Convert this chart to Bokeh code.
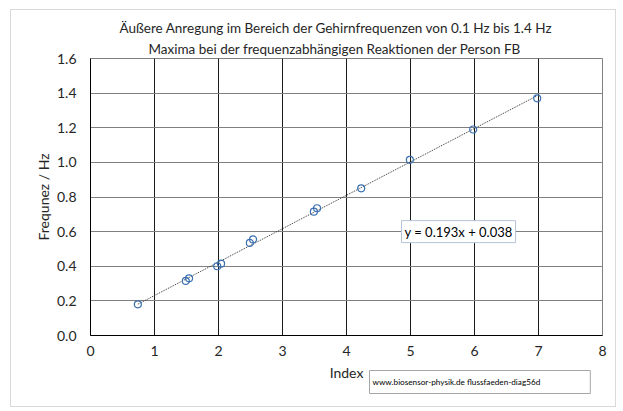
from bokeh.plotting import figure
from bokeh.models import Label, FixedTicker, Range1d, Title
from bokeh.embed import file_html
from bokeh.resources import INLINE

# Data
index_vals = [0.74, 1.49, 1.54, 1.98, 2.04, 2.49, 2.54, 3.49, 3.54, 4.23, 4.99, 5.98, 6.98]
freq_vals = [0.18, 0.315, 0.33, 0.40, 0.415, 0.535, 0.555, 0.715, 0.735, 0.85, 1.015, 1.19, 1.37]
slope = 0.193
intercept = 0.038
title_line1 = "Äußere Anregung im Bereich der Gehirnfrequenzen von 0.1 Hz bis 1.4 Hz"
title_line2 = "Maxima bei der frequenzabhängigen Reaktionen der Person FB"
x_ticks = [0, 1, 2, 3, 4, 5, 6, 7, 8]
y_ticks = [0.0, 0.2, 0.4, 0.6, 0.8, 1.0, 1.2, 1.4, 1.6]
y_tick_labels = {v: f"{v:.1f}" for v in y_ticks}
eq_text = f"y = {slope:.3f}x + {intercept:.3f}"
source_text = "www.biosensor-physik.de  flussfaeden-diag56d"

FONT = "Lato"

p = figure(width=604, height=396, output_backend="svg", toolbar_location=None,
           x_range=Range1d(0, 8), y_range=Range1d(0, 1.6),
           min_border_left=79, min_border_right=13, min_border_top=48, min_border_bottom=62,
           margin=(10, 8, 5, 11))
p.styles = {"outline": "1px solid #d9d9d9"}
p.outline_line_color = "#808080"
p.background_fill_color = "white"
p.border_fill_color = "white"

p.xaxis.ticker = FixedTicker(ticks=x_ticks)
p.yaxis.ticker = FixedTicker(ticks=y_ticks)
p.yaxis.major_label_overrides = y_tick_labels
for ax in (p.xaxis[0], p.yaxis[0]):
    ax.axis_line_color = "black"
    ax.major_tick_out = 0
    ax.major_tick_in = 0
    ax.minor_tick_out = 0
    ax.minor_tick_in = 0
    ax.major_label_text_font = FONT
    ax.major_label_text_font_size = "14px"
    ax.major_label_text_color = "#262626"
    ax.axis_label_text_font = FONT
    ax.axis_label_text_font_size = "14px"
    ax.axis_label_text_font_style = "normal"
    ax.axis_label_text_color = "#262626"
p.xaxis.axis_label = "Index"
p.yaxis.axis_label = "Frequnez / Hz"
p.xaxis.major_label_standoff = 10
p.yaxis.major_label_standoff = 14
p.xaxis.axis_label_standoff = 5
p.yaxis.axis_label_standoff = 2

p.xgrid.grid_line_color = "#1a1a1a"
p.ygrid.grid_line_color = "#7f7f7f"
p.xgrid.grid_line_width = 1
p.ygrid.grid_line_width = 1

# trendline
x0, x1 = min(index_vals), max(index_vals)
p.line([x0, x1], [slope * x0 + intercept, slope * x1 + intercept],
       line_color="#333333", line_width=1, line_dash="1 1")

p.scatter(index_vals, freq_vals, marker="circle", size=7, fill_color=None,
          line_color="#3a6fb0", line_width=1.2)

# titles
p.title.visible = False
p.add_layout(Title(text=title_line2, align="left", text_font=FONT, text_font_size="13.5px",
                   text_font_style="normal", text_color="#262626", standoff=4, offset=58), "above")
p.add_layout(Title(text=title_line1, align="left", text_font=FONT, text_font_size="13.5px",
                   text_font_style="normal", text_color="#262626", standoff=2, offset=29), "above")

# equation
p.add_layout(Label(x=4.86, y=0.6, text=eq_text, text_align="left", text_baseline="middle",
                   text_font=FONT, text_font_size="13px", text_color="black",
                   background_fill_color="white", border_line_color="#b4c3d6",
                   padding=3))

# source
p.add_layout(Label(x=279, y=24.5, x_units="screen", y_units="screen", text=source_text,
                   text_align="left", text_baseline="middle",
                   text_font=FONT, text_font_size="8.2px", text_color="black",
                   background_fill_color="white", border_line_color="#a6a6a6",
                   padding=(3, 48, 6, 7)), "below")

open("out.html", "w").write(file_html(p, INLINE))
